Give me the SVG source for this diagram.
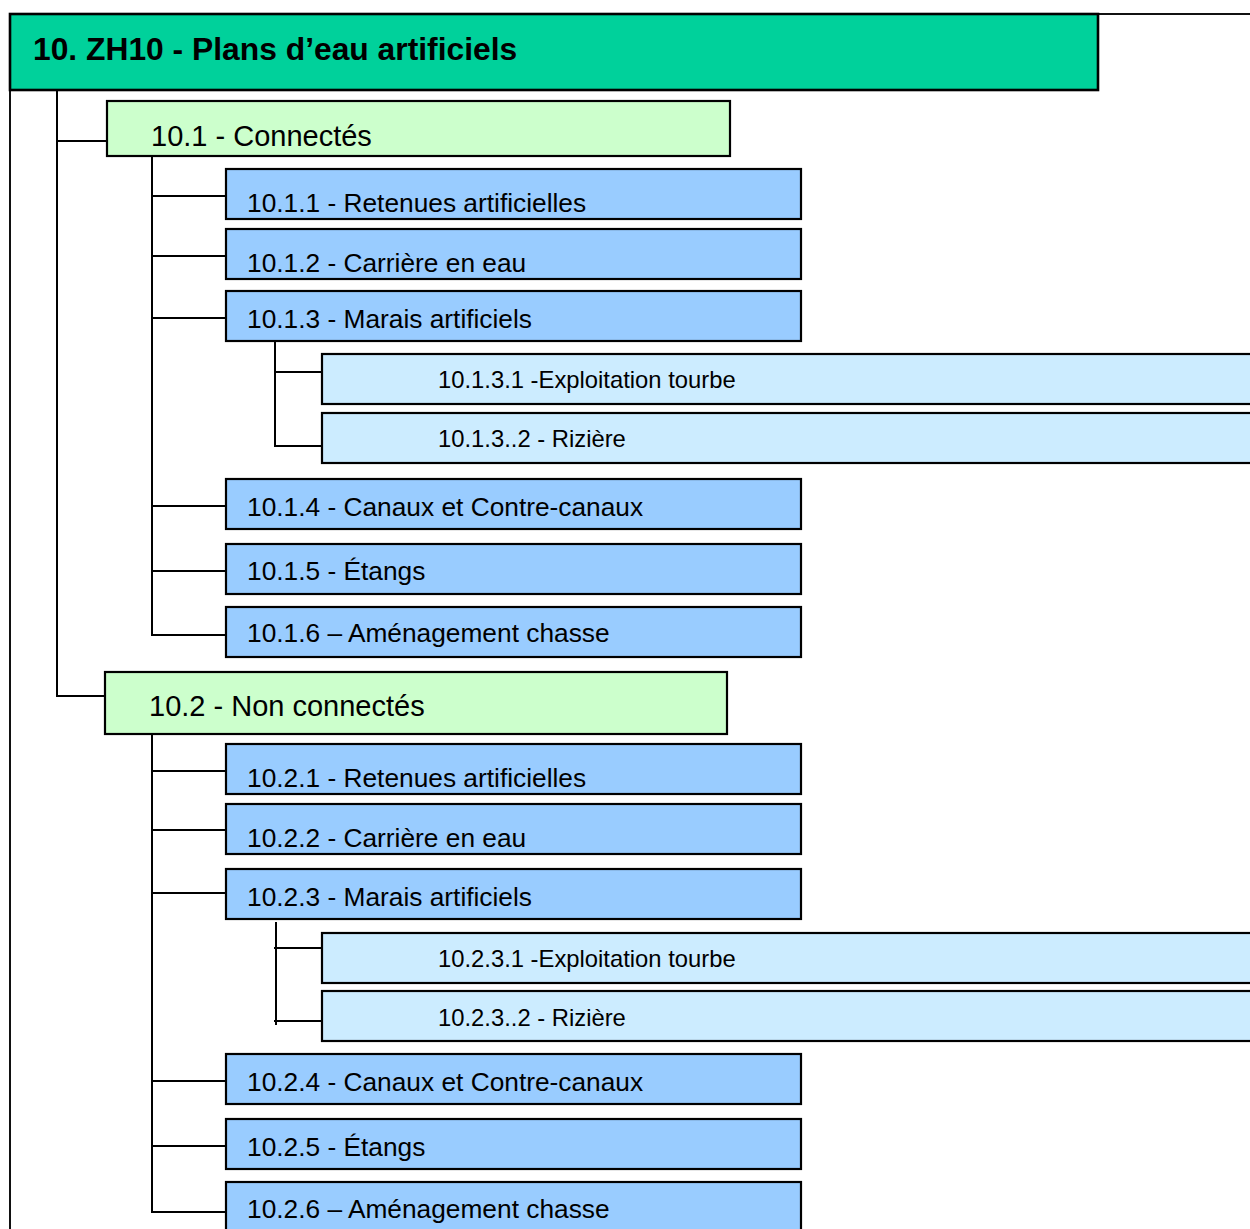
<svg xmlns="http://www.w3.org/2000/svg" width="1250" height="1229" viewBox="0 0 1250 1229">
  <style>
    .frame { fill: none; stroke: #111; stroke-width: 2; }
    .box { stroke: #000; stroke-width: 2.2; }
    .root { fill: #00D19B; stroke: #000; stroke-width: 2.6; }
    .l1 { fill: #CCFFCC; }
    .l2 { fill: #99CCFF; }
    .l3 { fill: #CCECFF; }
    text { font-family: "Liberation Sans", Arial, sans-serif; fill: #000; }
    .t0 { font-size: 31.8px; font-weight: bold; }
    .t1 { font-size: 29px; }
    .t2 { font-size: 26.3px; }
    .t3 { font-size: 23.8px; }
    .conn line { stroke: #000; stroke-width: 2; }
  </style>

  <!-- outer frame -->
  <path class="frame" d="M1250 14 H10 V1229"/>

  <!-- connectors -->
  <g id="connectors" class="conn">
    <line x1="57" y1="90" x2="57" y2="697"/>
    <line x1="58" y1="141" x2="107" y2="141"/>
    <line x1="56" y1="696" x2="105" y2="696"/>

    <line x1="152" y1="156" x2="152" y2="636"/>
    <line x1="153" y1="196" x2="226" y2="196"/>
    <line x1="153" y1="256" x2="226" y2="256"/>
    <line x1="153" y1="318" x2="226" y2="318"/>
    <line x1="153" y1="506" x2="226" y2="506"/>
    <line x1="153" y1="571" x2="226" y2="571"/>
    <line x1="151" y1="635" x2="226" y2="635"/>

    <line x1="275" y1="341" x2="275" y2="447"/>
    <line x1="275" y1="372" x2="322" y2="372"/>
    <line x1="274" y1="446" x2="322" y2="446"/>

    <line x1="152" y1="734" x2="152" y2="1213"/>
    <line x1="153" y1="771" x2="226" y2="771"/>
    <line x1="153" y1="830" x2="226" y2="830"/>
    <line x1="153" y1="893" x2="226" y2="893"/>
    <line x1="153" y1="1081" x2="226" y2="1081"/>
    <line x1="153" y1="1146" x2="226" y2="1146"/>
    <line x1="151" y1="1212" x2="226" y2="1212"/>

    <line x1="276" y1="922" x2="276" y2="1025"/>
    <line x1="274" y1="948" x2="322" y2="948"/>
    <line x1="274" y1="1021" x2="322" y2="1021"/>
  </g>

  <!-- root -->
  <g id="n10">
    <rect class="root" x="10" y="14" width="1088" height="76"/>
    <text class="t0" x="33" y="60">10. ZH10 - Plans d’eau artificiels</text>
  </g>

  <!-- 10.1 branch -->
  <g id="n10_1">
    <rect class="box l1" x="107" y="101" width="623" height="55"/>
    <text class="t1" x="151" y="146">10.1 - Connectés</text>
  </g>
  <g id="n10_1_1">
    <rect class="box l2" x="226" y="169" width="575" height="50"/>
    <text class="t2" x="247" y="212">10.1.1 - Retenues artificielles</text>
  </g>
  <g id="n10_1_2">
    <rect class="box l2" x="226" y="229" width="575" height="50"/>
    <text class="t2" x="247" y="272">10.1.2 - Carrière en eau</text>
  </g>
  <g id="n10_1_3">
    <rect class="box l2" x="226" y="291" width="575" height="50"/>
    <text class="t2" x="247" y="328">10.1.3 - Marais artificiels</text>
  </g>
  <g id="n10_1_3_1">
    <rect class="box l3" x="322" y="354" width="940" height="50"/>
    <text class="t3" x="438" y="388">10.1.3.1 -Exploitation tourbe</text>
  </g>
  <g id="n10_1_3_2">
    <rect class="box l3" x="322" y="413" width="940" height="50"/>
    <text class="t3" x="438" y="447">10.1.3..2 - Rizière</text>
  </g>
  <g id="n10_1_4">
    <rect class="box l2" x="226" y="479" width="575" height="50"/>
    <text class="t2" x="247" y="516">10.1.4 - Canaux et Contre-canaux</text>
  </g>
  <g id="n10_1_5">
    <rect class="box l2" x="226" y="544" width="575" height="50"/>
    <text class="t2" x="247" y="580">10.1.5 - Étangs</text>
  </g>
  <g id="n10_1_6">
    <rect class="box l2" x="226" y="607" width="575" height="50"/>
    <text class="t2" x="247" y="642">10.1.6 – Aménagement chasse</text>
  </g>

  <!-- 10.2 branch -->
  <g id="n10_2">
    <rect class="box l1" x="105" y="672" width="622" height="62"/>
    <text class="t1" x="149" y="716">10.2 - Non connectés</text>
  </g>
  <g id="n10_2_1">
    <rect class="box l2" x="226" y="744" width="575" height="50"/>
    <text class="t2" x="247" y="787">10.2.1 - Retenues artificielles</text>
  </g>
  <g id="n10_2_2">
    <rect class="box l2" x="226" y="804" width="575" height="50"/>
    <text class="t2" x="247" y="847">10.2.2 - Carrière en eau</text>
  </g>
  <g id="n10_2_3">
    <rect class="box l2" x="226" y="869" width="575" height="50"/>
    <text class="t2" x="247" y="906">10.2.3 - Marais artificiels</text>
  </g>
  <g id="n10_2_3_1">
    <rect class="box l3" x="322" y="933" width="940" height="50"/>
    <text class="t3" x="438" y="967">10.2.3.1 -Exploitation tourbe</text>
  </g>
  <g id="n10_2_3_2">
    <rect class="box l3" x="322" y="991" width="940" height="50"/>
    <text class="t3" x="438" y="1026">10.2.3..2 - Rizière</text>
  </g>
  <g id="n10_2_4">
    <rect class="box l2" x="226" y="1054" width="575" height="50"/>
    <text class="t2" x="247" y="1091">10.2.4 - Canaux et Contre-canaux</text>
  </g>
  <g id="n10_2_5">
    <rect class="box l2" x="226" y="1119" width="575" height="50"/>
    <text class="t2" x="247" y="1156">10.2.5 - Étangs</text>
  </g>
  <g id="n10_2_6">
    <rect class="box l2" x="226" y="1182" width="575" height="60"/>
    <text class="t2" x="247" y="1218">10.2.6 – Aménagement chasse</text>
  </g>
</svg>
